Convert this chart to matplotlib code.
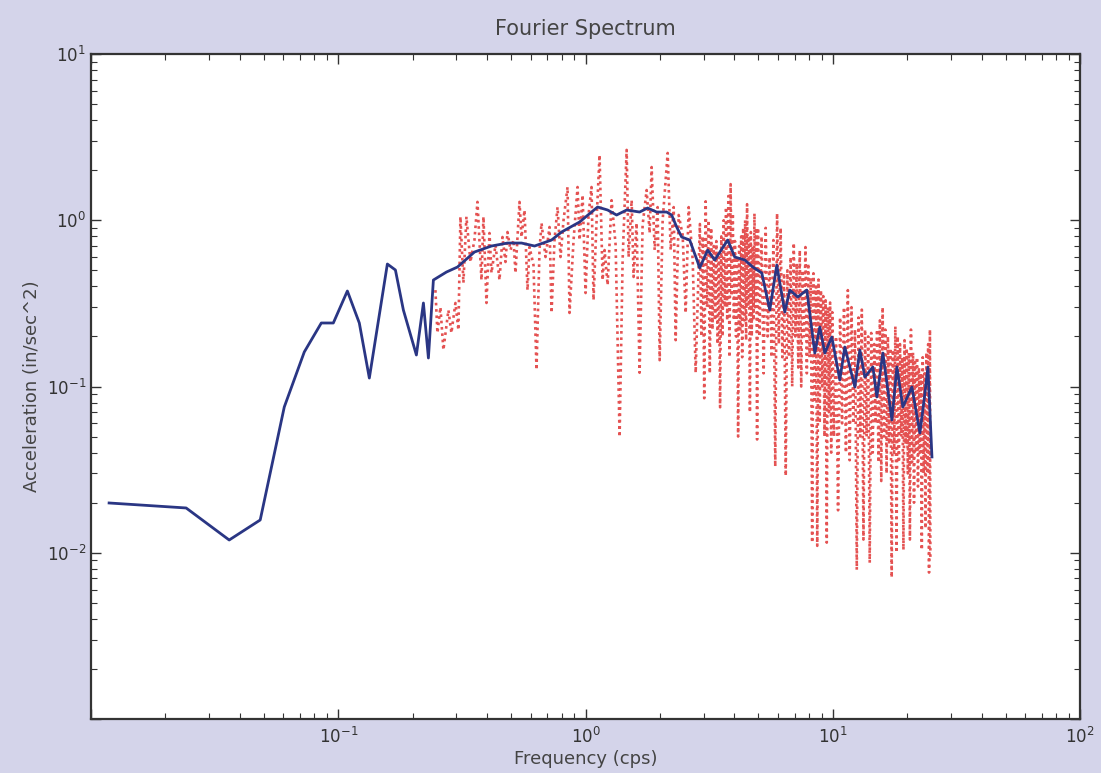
import math
import matplotlib
matplotlib.use("Agg")
import matplotlib.pyplot as plt
from matplotlib.ticker import LogLocator, FuncFormatter

# ---------------- data ----------------
# smoothed spectrum (blue, solid)
blue_freq = [0.01183, 0.02424, 0.03620, 0.04832, 0.06046, 0.07284, 0.08535, 0.09545,
             0.1088, 0.1216, 0.1335, 0.1579, 0.1702, 0.1833, 0.2069, 0.2209, 0.2314,
             0.2424, 0.2737, 0.3033, 0.3553, 0.4164, 0.4833, 0.5507, 0.6219, 0.7284,
             0.7995, 0.9456, 1.1184, 1.228, 1.335, 1.466, 1.654, 1.782, 1.938, 2.128,
             2.229, 2.336, 2.447, 2.637, 2.841, 2.894, 3.118, 3.329, 3.757, 4.011,
             4.403, 4.745, 5.160, 5.559, 5.934, 6.394, 6.699, 7.217, 7.848, 8.455,
             8.857, 9.281, 9.908, 10.67, 11.18, 12.28, 12.86, 13.48, 14.52, 15.07,
             15.94, 17.33, 18.16, 19.20, 20.88, 22.50, 23.58, 24.24, 25.17]
blue_amp = [0.01992, 0.01859, 0.01193, 0.01574, 0.0753, 0.1613, 0.2410, 0.2410,
            0.3754, 0.2410, 0.1124, 0.5455, 0.5022, 0.2884, 0.1547, 0.3179, 0.1484,
            0.4370, 0.4881, 0.5231, 0.6442, 0.7000, 0.7295, 0.7295, 0.7000, 0.7605,
            0.8497, 0.9761, 1.2013, 1.1526, 1.0755, 1.1526, 1.1209, 1.1849, 1.1209, 1.1209,
            1.0755, 0.9108, 0.7930, 0.7605, 0.5609, 0.5162, 0.6623, 0.5768, 0.7605, 0.6012,
            0.5768, 0.5231, 0.4817, 0.2884, 0.5380, 0.2805, 0.3805, 0.3453, 0.3805, 0.1590,
            0.2280, 0.1590, 0.1984, 0.1094, 0.1728, 0.0993, 0.1659, 0.1140, 0.1311, 0.0865,
            0.1590, 0.0629, 0.1311, 0.0753, 0.0993, 0.0525, 0.0914, 0.1311, 0.0377]

# raw spectrum (red, dotted) -- low-frequency part
red_freq_lo = [0.247, 0.2517, 0.2588, 0.2661, 0.2788, 0.2867, 0.2976, 0.3060, 0.3118, 0.3206,
               0.3297, 0.3422, 0.3553, 0.3654, 0.3793, 0.3864, 0.3974, 0.4087, 0.4164, 0.4322,
               0.4486, 0.4613, 0.4744, 0.4833, 0.4970, 0.5111, 0.5207, 0.5405, 0.5507, 0.5663,
               0.5823, 0.5933, 0.6158, 0.6333, 0.6512, 0.6635, 0.6887, 0.7150, 0.7284, 0.7490,
               0.7702, 0.7921, 0.8145, 0.8455, 0.8613, 0.8943, 0.9281, 0.9456, 0.9725, 1.000,
               1.028, 1.057, 1.077, 1.108, 1.139, 1.172, 1.194, 1.228, 1.274, 1.323,
               1.373, 1.412, 1.466, 1.493, 1.536, 1.564, 1.608, 1.654, 1.701, 1.766,
               1.816, 1.850, 1.903, 1.956, 1.994, 2.050, 2.109, 2.148, 2.209, 2.272,
               2.314, 2.380, 2.470, 2.540, 2.612, 2.712, 2.788]
red_amp_lo = [0.38, 0.21, 0.30, 0.166, 0.288, 0.21, 0.318, 0.219, 1.05, 0.42,
              1.05, 0.561, 0.76, 1.29, 0.437, 1.05, 0.318, 0.838, 0.482, 0.71,
              0.437, 0.793, 0.561, 0.85, 0.662, 0.76, 0.482, 1.29, 0.793, 1.15,
              0.38, 0.69, 0.538, 0.126, 0.662, 0.962, 0.601, 0.911, 0.277, 0.76,
              1.20, 0.601, 1.0, 1.585, 0.277, 0.76, 1.585, 0.76, 1.42, 0.365,
              1.076, 1.585, 0.331, 1.0, 2.47, 0.437, 0.662, 0.408, 1.32, 0.71,
              0.0497, 0.577, 2.65, 0.601, 1.32, 0.456, 0.962, 0.121, 0.936, 1.52,
              0.838, 2.09, 0.662, 1.20, 0.144, 1.0, 1.75, 2.54, 0.662, 1.20,
              0.19, 1.076, 0.815, 0.277, 1.20, 0.577, 0.121]

# raw spectrum (red) -- 2.9 to 5 cps
red_freq_a = [2.90, 2.94, 2.98, 3.02, 3.06, 3.10, 3.14, 3.18, 3.22, 3.26, 3.30, 3.34, 3.38,
              3.42, 3.46, 3.50, 3.54, 3.58, 3.62, 3.66, 3.70, 3.74, 3.78, 3.82, 3.86, 3.90,
              3.94, 3.98, 4.02, 4.06, 4.10, 4.14, 4.18, 4.22, 4.26, 4.30, 4.34, 4.38, 4.42,
              4.46, 4.50, 4.54, 4.58, 4.62, 4.66, 4.70, 4.74, 4.78, 4.82, 4.86, 4.90, 4.94, 4.98]
red_amp_a = [0.95, 0.2, 0.8, 0.085, 1.3, 0.3, 1.0, 0.12, 0.9, 0.22, 0.7, 0.25, 0.75,
             0.18, 0.6, 0.075, 0.8, 0.2, 1.0, 0.3, 1.2, 0.25, 1.4, 0.15, 1.65, 0.35,
             1.1, 0.25, 0.75, 0.2, 0.6, 0.05, 0.7, 0.22, 0.8, 0.15, 0.9, 0.25, 1.0,
             0.19, 1.25, 0.3, 0.8, 0.07, 0.85, 0.2, 0.7, 0.25, 1.1, 0.3, 0.9, 0.048, 0.9]

# raw spectrum (red) -- 5 to 10 cps
red_freq_b = [5.05, 5.15, 5.25, 5.35, 5.45, 5.55, 5.65, 5.75, 5.85, 5.95, 6.05, 6.15, 6.25,
              6.35, 6.45, 6.55, 6.65, 6.75, 6.85, 6.95, 7.05, 7.15, 7.25, 7.35, 7.45, 7.55,
              7.65, 7.75, 7.85, 7.95, 8.05, 8.15, 8.25, 8.35, 8.45, 8.55, 8.65, 8.75, 8.85,
              8.95, 9.05, 9.15, 9.25, 9.35, 9.45, 9.55, 9.65, 9.75, 9.85, 9.95]
red_amp_b = [0.2, 0.8, 0.12, 0.9, 0.2, 0.6, 0.15, 0.76, 0.033, 1.1, 0.18, 0.9, 0.15,
             0.48, 0.029, 0.5, 0.15, 0.6, 0.1, 0.73, 0.2, 0.55, 0.13, 0.66, 0.1, 0.5,
             0.2, 0.69, 0.12, 0.55, 0.15, 0.45, 0.0115, 0.48, 0.08, 0.4, 0.011, 0.44, 0.06,
             0.38, 0.1, 0.35, 0.05, 0.33, 0.0115, 0.3, 0.07, 0.32, 0.04, 0.28]

# raw spectrum (red) -- 10 to 25 cps
red_freq_c = [10.1, 10.3, 10.5, 10.7, 10.9, 11.1, 11.3, 11.5, 11.7, 11.9, 12.1, 12.3, 12.5,
              12.7, 12.9, 13.1, 13.3, 13.5, 13.7, 13.9, 14.1, 14.3, 14.5, 14.7, 14.9, 15.1,
              15.3, 15.5, 15.7, 15.9, 16.1, 16.3, 16.5, 16.7, 16.9, 17.1, 17.3, 17.5, 17.7,
              17.9, 18.1, 18.3, 18.5, 18.7, 18.9, 19.1, 19.3, 19.5, 19.7, 19.9, 20.1, 20.3,
              20.5, 20.7, 20.9, 21.1, 21.3, 21.5, 21.7, 21.9, 22.1, 22.3, 22.5, 22.7, 22.9,
              23.1, 23.3, 23.5, 23.7, 23.9, 24.1, 24.3, 24.5, 24.7, 24.8]
red_amp_c = [0.05, 0.2, 0.018, 0.26, 0.06, 0.3, 0.04, 0.38, 0.036, 0.3, 0.06, 0.22, 0.0079,
             0.26, 0.05, 0.29, 0.012, 0.22, 0.05, 0.2, 0.0087, 0.21, 0.04, 0.18, 0.06, 0.22,
             0.035, 0.25, 0.027, 0.3, 0.05, 0.22, 0.03, 0.2, 0.045, 0.17, 0.0071, 0.166, 0.04,
             0.23, 0.01, 0.2, 0.035, 0.18, 0.05, 0.15, 0.0104, 0.19, 0.045, 0.17, 0.03, 0.16,
             0.012, 0.22, 0.035, 0.16, 0.02, 0.14, 0.04, 0.15, 0.025, 0.13, 0.04, 0.12, 0.0104,
             0.15, 0.03, 0.12, 0.014, 0.16, 0.03, 0.18, 0.0076, 0.22, 0.009]

red_freq = red_freq_lo + red_freq_a + red_freq_b + red_freq_c
red_amp = red_amp_lo + red_amp_a + red_amp_b + red_amp_c

title = "Fourier Spectrum"
xlabel = "Frequency (cps)"
ylabel = "Acceleration (in/sec^2)"

# ---------------- figure ----------------
bg = "#d4d4ea"
fig = plt.figure(figsize=(11.01, 7.73), dpi=100, facecolor=bg)
ax = fig.add_axes([0.0827, 0.0699, 0.8983, 0.8602])
ax.set_facecolor("white")

ax.plot(red_freq, red_amp, color="#e03434", lw=1.9, linestyle=(0, (1.0, 1.4)), alpha=0.85, zorder=2)
ax.plot(blue_freq, blue_amp, color="#2a3684", lw=2.0, zorder=3)

ax.set_xscale("log")
ax.set_yscale("log")
ax.set_xlim(0.01, 100)
ax.set_ylim(0.001, 10)


def fmt(v):
    e = int(round(math.log10(v)))
    return r"$\mathregular{10^{%d}}$" % e


def xfmt(v, pos):
    return "" if v < 0.05 else fmt(v)


def yfmt(v, pos):
    return "" if v < 0.005 else fmt(v)


ax.xaxis.set_major_locator(LogLocator(base=10, numticks=10))
ax.yaxis.set_major_locator(LogLocator(base=10, numticks=10))
ax.xaxis.set_minor_locator(LogLocator(base=10, subs=range(2, 10), numticks=20))
ax.yaxis.set_minor_locator(LogLocator(base=10, subs=range(2, 10), numticks=20))
ax.xaxis.set_major_formatter(FuncFormatter(xfmt))
ax.yaxis.set_major_formatter(FuncFormatter(yfmt))

ax.tick_params(which="both", direction="in", top=True, right=True, colors="#333333",
               labelsize=12)
ax.tick_params(which="major", length=7, width=1)
ax.tick_params(which="minor", length=4, width=0.8)
ax.tick_params(axis="x", pad=6)
for s in ax.spines.values():
    s.set_linewidth(1.6)
    s.set_color("#333333")

ax.set_title(title, fontsize=15, color="#444444", pad=14)
ax.set_xlabel(xlabel, fontsize=13, color="#444444", labelpad=2)
ax.set_ylabel(ylabel, fontsize=13, color="#444444", labelpad=4)

fig.savefig("out.png", dpi=100, facecolor=bg)
